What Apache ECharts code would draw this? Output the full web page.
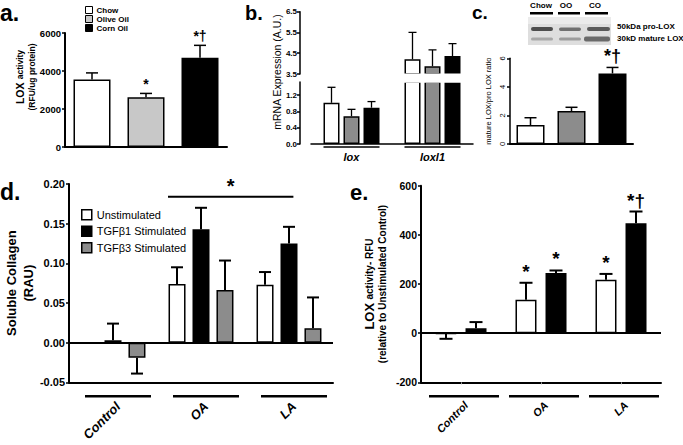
<!DOCTYPE html>
<html><head><meta charset="utf-8">
<script src="https://cdn.jsdelivr.net/npm/echarts@6/dist/echarts.min.js"></script>
<style>html,body{margin:0;padding:0;background:#fff}#c{width:683px;height:445px}</style>
</head><body><div id="c"></div>
<script>
// ---------------- data ----------------
// a. LOX activity by diet
const aCats = ['Chow', 'Olive Oil', 'Corn Oil'];
const aVals = [3550, 2620, 4700];
const aErrs = [350, 200, 650];
const aMarks = ['', '*', '*†'];

// b. mRNA expression
const bGenes = ['lox', 'loxl1'];
const bChow = [1.01, 4.21];
const bChowErr = [0.38, 1.29];
const bOO = [0.68, 3.87];
const bOOErr = [0.17, 0.79];
const bCO = [0.89, 4.37];
const bCOErr = [0.15, 0.59];
const bLowerTicks = [0, 0.4, 0.8, 1.2];

// c. mature/pro LOX ratio
const cCats = ['Chow', 'OO', 'CO'];
const cVals = [1.33, 2.31, 4.94];
const cErrs = [0.51, 0.26, 0.42];
const cMarks = ['', '', '*†'];

// d. soluble collagen
const dCats = ['Control', 'OA', 'LA'];
const dNames = ['Unstimulated', 'TGFβ1 Stimulated', 'TGFβ3 Stimulated'];
const dUnstim = [0, 0.074, 0.073];
const dUnstimErr = [0, 0.021, 0.016];
const dTgf1 = [0.003, 0.143, 0.125];
const dTgf1Err = [0.021, 0.027, 0.021];
const dTgf3 = [-0.019, 0.0665, 0.018];
const dTgf3Err = [0.020, 0.037, 0.039];
const dGroupStar = [1, 2, 0.184, '*'];

// e. LOX activity relative to unstimulated control
const eCats = ['Control', 'OA', 'LA'];
const eUnstim = [-2, 136, 217];
const eUnstimErr = [21, 69, 24];
const eTgf1 = [20, 245, 447];
const eTgf1Err = [25, 10, 48];
const eUnstimMarks = ['', '*', '*'];
const eTgf1Marks = ['', '*', '*†'];

// ---------------- styles ----------------
const FONT = '"Liberation Sans", Arial, Helvetica, sans-serif';
const BLACK = '#000';
const WHITE = '#fff';
const LIGHT = '#c8c8c8';
const MID = '#8c8c8c';

function merge(a, b) {
  const o = Object.assign({}, a);
  for (const k in b) {
    if (b[k] && typeof b[k] === 'object' && !Array.isArray(b[k]) && a[k] && typeof a[k] === 'object') o[k] = merge(a[k], b[k]);
    else o[k] = b[k];
  }
  return o;
}
function yAx(grid, o) {
  return merge({
    type: 'value', gridIndex: grid, nameLocation: 'middle', nameMoveOverlap: false,
    axisLine: { show: true, onZero: false, lineStyle: { color: BLACK, width: 2 } },
    axisTick: { show: true, length: 3, lineStyle: { color: BLACK, width: 1.5 } },
    splitLine: { show: false },
    axisLabel: { color: BLACK, fontFamily: FONT, fontWeight: 'bold', fontSize: 9.5, margin: 4 },
    nameTextStyle: { color: BLACK, fontFamily: FONT }
  }, o);
}
function xAx(grid, cats, o) {
  return merge({
    type: 'category', gridIndex: grid, data: cats,
    axisLine: { show: true, onZero: false, lineStyle: { color: BLACK, width: 2 } },
    axisTick: { show: false }, axisLabel: { show: false }, splitLine: { show: false }
  }, o || {});
}
function barStyle(color) { return { color: color, borderColor: BLACK, borderWidth: 1.5 }; }

function errSeries(ax, data, offset, capW, marks, markFont, clip, lw) {
  return {
    type: 'custom', xAxisIndex: ax, yAxisIndex: ax, clip: !!clip, silent: true, z: 3,
    data: data,
    renderItem: function (params, api) {
      const v = api.value(1), e = api.value(2);
      if (isNaN(v)) return;
      const dir = v < 0 ? -1 : 1;
      const p0 = api.coord([api.value(0), v]);
      const p1 = api.coord([api.value(0), v + dir * e]);
      const x = p0[0] + offset;
      const ch = [];
      const st = { stroke: BLACK, lineWidth: lw || 1.5 };
      if (e > 0) {
        ch.push({ type: 'line', shape: { x1: x, y1: p0[1], x2: x, y2: p1[1] }, style: st });
        ch.push({ type: 'line', shape: { x1: x - capW / 2, y1: p1[1], x2: x + capW / 2, y2: p1[1] }, style: st });
      }
      const m = marks && marks[params.dataIndex];
      if (m) ch.push({ type: 'text', x: x, y: p1[1] - 2, style: { text: m, align: 'center', verticalAlign: 'bottom', font: markFont, fill: BLACK } });
      return { type: 'group', children: ch };
    }
  };
}
function catLabelSeries(ax, cats, lineFrom, lineTo, lineDy, lineW, txtDx, txtDy, font, rotate) {
  return {
    type: 'custom', xAxisIndex: ax, yAxisIndex: ax, clip: false, silent: true, z: 3,
    data: cats.map(function (c, i) { return [i, 0]; }),
    renderItem: function (params, api) {
      const i = api.value(0);
      const cx = api.coord([i, 0])[0];
      const cs = params.coordSys;
      const yb = cs.y + cs.height;
      const ch = [{ type: 'line', shape: { x1: cx + lineFrom, y1: yb + lineDy, x2: cx + lineTo, y2: yb + lineDy }, style: { stroke: BLACK, lineWidth: lineW } }];
      if (rotate) ch.push({ type: 'text', x: cx + txtDx, y: yb + txtDy, rotation: Math.PI / 4, style: { text: cats[i], align: 'right', verticalAlign: 'middle', font: font, fill: BLACK } });
      return { type: 'group', children: ch };
    }
  };
}

// ---------------- series ----------------
const series = [];
// a
const aColors = [WHITE, LIGHT, BLACK];
aCats.forEach(function (name, k) {
  series.push({ type: 'bar', name: name, xAxisIndex: 0, yAxisIndex: 0, barWidth: 37, barGap: '-100%',
    itemStyle: barStyle(aColors[k]), data: aVals.map(function (v, i) { return i === k ? v : '-'; }) });
});
series.push(errSeries(0, aCats.map(function (c, i) { return [i, aVals[i], aErrs[i]]; }), 0, 12, aMarks, 'bold 14px ' + FONT, false, 1.5));

// b (upper grid = axis 1, lower grid = axis 2)
const bSets = [[bChow, bChowErr, WHITE], [bOO, bOOErr, MID], [bCO, bCOErr, BLACK]];
const bOffsets = [-20, 0, 20];
[1, 2].forEach(function (ax) {
  bSets.forEach(function (s, k) {
    series.push({ type: 'bar', name: 'b' + ax + '-' + k, xAxisIndex: ax, yAxisIndex: ax, barWidth: 16, barGap: '25%', clip: true,
      itemStyle: barStyle(s[2]), data: s[0].slice() });
  });
  bSets.forEach(function (s, k) {
    series.push(errSeries(ax, bGenes.map(function (g, i) { return [i, s[0][i], s[1][i]]; }), bOffsets[k], 8, null, '', true, 1.3));
  });
});
series.push(catLabelSeries(2, bGenes, -28, 28, 3, 1.3, 0, 0, '', false));

// c
const cColors = [WHITE, MID, BLACK];
series.push({ type: 'bar', name: 'ratio', xAxisIndex: 3, yAxisIndex: 3, barWidth: 28,
  data: cVals.map(function (v, i) { return { value: v, itemStyle: barStyle(cColors[i]) }; }) });
series.push(errSeries(3, cCats.map(function (c, i) { return [i, cVals[i], cErrs[i]]; }), 0, 12, cMarks, 'bold 18px ' + FONT, false, 1.5));

// d
const dSets = [[dUnstim, dUnstimErr, WHITE], [dTgf1, dTgf1Err, BLACK], [dTgf3, dTgf3Err, MID]];
const dOffsets = [-24, 0, 24];
dSets.forEach(function (s, k) {
  const sr = { type: 'bar', name: dNames[k], xAxisIndex: 4, yAxisIndex: 4, barWidth: 17, barGap: '41%',
    itemStyle: barStyle(s[2]), data: s[0].slice() };
  if (k === 0) sr.markLine = { silent: true, symbol: ['none', 'none'], label: { show: false }, lineStyle: { color: BLACK, width: 2, type: 'solid' }, data: [{ yAxis: 0 }] };
  series.push(sr);
});
dSets.forEach(function (s, k) {
  series.push(errSeries(4, dCats.map(function (c, i) { return [i, s[0][i], s[1][i]]; }), dOffsets[k], 12, null, '', false, 2));
});
series.push({
  type: 'custom', xAxisIndex: 4, yAxisIndex: 4, clip: false, silent: true, z: 3,
  data: [dGroupStar.slice(0, 3)],
  renderItem: function (params, api) {
    const band = api.size([1, 0])[0];
    const y = api.coord([api.value(0), api.value(2)])[1];
    const x1 = api.coord([api.value(0), 0])[0] - 0.375 * band;
    const x2 = api.coord([api.value(1), 0])[0] + 0.05 * band;
    return { type: 'group', children: [
      { type: 'line', shape: { x1: x1, y1: y, x2: x2, y2: y }, style: { stroke: BLACK, lineWidth: 2 } },
      { type: 'text', x: (x1 + x2) / 2, y: y - 1, style: { text: dGroupStar[3], align: 'center', verticalAlign: 'bottom', font: 'bold 20px ' + FONT, fill: BLACK } }
    ] };
  }
});
series.push(catLabelSeries(4, dCats, -28, 38, 14, 2.5, 5, 22, 'italic bold 13px ' + FONT, true));

// e
const eSets = [[eUnstim, eUnstimErr, WHITE, eUnstimMarks], [eTgf1, eTgf1Err, BLACK, eTgf1Marks]];
const eOffsets = [-15, 15];
eSets.forEach(function (s, k) {
  const sr = { type: 'bar', name: 'e-' + dNames[k], xAxisIndex: 5, yAxisIndex: 5, barWidth: 21, barGap: '43%',
    itemStyle: barStyle(s[2]), data: s[0].slice() };
  if (k === 0) sr.markLine = { silent: true, symbol: ['none', 'none'], label: { show: false }, lineStyle: { color: BLACK, width: 2, type: 'solid' }, data: [{ yAxis: 0 }] };
  series.push(sr);
});
eSets.forEach(function (s, k) {
  series.push(errSeries(5, eCats.map(function (c, i) { return [i, s[0][i], s[1][i]]; }), eOffsets[k], 13, s[3], 'bold 19px ' + FONT, false, 2));
});
series.push(catLabelSeries(5, eCats, -32, 38, 14, 2.5, 5, 21, 'italic bold 11px ' + FONT, true));

// ---------------- option ----------------
const chart = echarts.init(document.getElementById('c'), null, { renderer: 'svg', width: 683, height: 445 });
const option = {
  animation: false,
  backgroundColor: '#fff',
  textStyle: { fontFamily: FONT },
  grid: [
    { left: 65, top: 33, width: 162, height: 114, outerBoundsMode: 'none' },
    { left: 311, top: 11.7, width: 162, height: 62.3, outerBoundsMode: 'none' },
    { left: 311, top: 82, width: 162, height: 62, outerBoundsMode: 'none' },
    { left: 510, top: 58.3, width: 123, height: 85.7, outerBoundsMode: 'none' },
    { left: 69, top: 184, width: 264, height: 198.3, outerBoundsMode: 'none' },
    { left: 421, top: 185.7, width: 240, height: 196.6, outerBoundsMode: 'none' }
  ],
  xAxis: [
    xAx(0, aCats),
    xAx(1, bGenes, { axisLine: { show: false } }),
    xAx(2, bGenes, { axisLine: { lineStyle: { width: 1.5 } }, axisLabel: { show: true, color: BLACK, fontFamily: FONT, fontStyle: 'italic', fontWeight: 'bold', fontSize: 11, margin: 7 } }),
    xAx(3, cCats),
    xAx(4, dCats),
    xAx(5, eCats, { axisTick: { show: true, alignWithLabel: true, length: 2, lineStyle: { color: '#999', width: 1 } } })
  ],
  yAxis: [
    yAx(0, { min: 0, max: 6000, interval: 2000, nameGap: 28,
      axisLabel: { formatter: function (v) { return String(v); } },
      name: '{b|LOX} {s|activity}\n{l|(RFU/ug protein)}',
      nameTextStyle: { padding: [0, 0, 0, 26], rich: {
        b: { fontSize: 10.5, fontWeight: 'bold', fontFamily: FONT, color: BLACK, lineHeight: 12 },
        s: { fontSize: 8.5, fontWeight: 'bold', fontFamily: FONT, color: BLACK, lineHeight: 12 },
        l: { fontSize: 8.5, fontWeight: 'bold', fontFamily: FONT, color: BLACK, lineHeight: 11 } } } }),
    yAx(1, { min: 3.5, max: 6.5, interval: 1, offset: 11, axisLine: { lineStyle: { width: 1.5 } },
      axisLabel: { fontSize: 8, margin: 3, formatter: function (v) { return v.toFixed(1); } } }),
    yAx(2, { min: 0, max: 1.52, interval: 0.4, offset: 11, axisLine: { lineStyle: { width: 1.5 } },
      axisTick: { customValues: bLowerTicks },
      axisLabel: { fontSize: 8, margin: 3, customValues: bLowerTicks, formatter: function (v) {
        return Math.abs(v / 0.4 - Math.round(v / 0.4)) > 1e-6 ? '' : v.toFixed(1); } } }),
    yAx(3, { min: 0, max: 6, interval: 2, nameGap: 18, name: 'mature LOX/pro LOX ratio',
      axisLine: { lineStyle: { width: 1.5 } },
      axisLabel: { rotate: 90, fontWeight: 'normal', fontSize: 7.5, margin: 4 },
      nameTextStyle: { fontSize: 7.5 } }),
    yAx(4, { min: -0.05, max: 0.2, interval: 0.05, nameGap: 32, name: 'Soluble Collagen\n(RAU)',
      axisLabel: { fontSize: 11, formatter: function (v) { return v.toFixed(2); } },
      nameTextStyle: { fontSize: 13, fontWeight: 'bold', lineHeight: 17 } }),
    yAx(5, { min: -200, max: 600, interval: 200, nameGap: 32,
      name: '{b|LOX} {m|activity- RFU}\n{m|(relative to Unstimulated Control)}',
      axisLabel: { fontSize: 10.5, formatter: function (v) { return String(v); } },
      nameTextStyle: { rich: {
        b: { fontSize: 13, fontWeight: 'bold', fontFamily: FONT, color: BLACK, lineHeight: 14 },
        m: { fontSize: 10, fontWeight: 'bold', fontFamily: FONT, color: BLACK, lineHeight: 13 } } } })
  ],
  legend: [
    { data: aCats, orient: 'vertical', left: 80, top: 1, itemWidth: 7, itemHeight: 7, itemGap: 1, icon: 'rect',
      selectedMode: false, itemStyle: { borderColor: BLACK, borderWidth: 1 },
      textStyle: { fontFamily: FONT, fontWeight: 'bold', fontSize: 8, color: BLACK, padding: [0, 0, 0, -1] } },
    { data: dNames, orient: 'vertical', left: 76, top: 204, itemWidth: 10, itemHeight: 10, itemGap: 5, icon: 'rect',
      selectedMode: false, itemStyle: { borderColor: BLACK, borderWidth: 1.5 },
      textStyle: { fontFamily: FONT, fontSize: 11, color: BLACK } }
  ],
  graphic: [
    { type: 'text', x: 0, y: 13, style: { text: 'a.', font: 'bold 23px ' + FONT, fill: BLACK, verticalAlign: 'middle' } },
    { type: 'text', x: 245, y: 12.5, style: { text: 'b.', font: 'bold 20px ' + FONT, fill: BLACK, verticalAlign: 'middle' } },
    { type: 'text', x: 472, y: 12.5, style: { text: 'c.', font: 'bold 19px ' + FONT, fill: BLACK, verticalAlign: 'middle' } },
    { type: 'text', x: 0, y: 192, style: { text: 'd.', font: 'bold 23px ' + FONT, fill: BLACK, verticalAlign: 'middle' } },
    { type: 'text', x: 350, y: 192.5, style: { text: 'e.', font: 'bold 22px ' + FONT, fill: BLACK, verticalAlign: 'middle' } },
    { type: 'text', x: 277, y: 72, rotation: Math.PI / 2, style: { text: 'mRNA Expression (A.U.)', font: '10.5px ' + FONT, fill: BLACK, align: 'center', verticalAlign: 'middle' } },
    // axis break gap across the loxl1 bars (panel b)
    { type: 'rect', z: 100, shape: { x: 398, y: 73.6, width: 70, height: 9.2 }, style: { fill: '#fff' } },
    // western blot (panel c inset)
    { type: 'rect', shape: { x: 528, y: 17, width: 83, height: 28 }, style: { fill: '#dedede' } },
    { type: 'rect', shape: { x: 528, y: 17, width: 83, height: 7 }, style: { fill: '#ebebeb' } },
    { type: 'rect', shape: { x: 531, y: 27, width: 22, height: 4, r: 2 }, style: { fill: '#4d4d4d' } },
    { type: 'rect', shape: { x: 559, y: 27.5, width: 22, height: 3.5, r: 2 }, style: { fill: '#707070' } },
    { type: 'rect', shape: { x: 587, y: 27, width: 23, height: 4, r: 2 }, style: { fill: '#5a5a5a' } },
    { type: 'rect', shape: { x: 531, y: 37.5, width: 22, height: 3, r: 1.5 }, style: { fill: '#a8a8a8' } },
    { type: 'rect', shape: { x: 559, y: 37.5, width: 22, height: 3, r: 1.5 }, style: { fill: '#9c9c9c' } },
    { type: 'rect', shape: { x: 584, y: 36.5, width: 26, height: 5, r: 2 }, style: { fill: '#6a6a6a' } },
    { type: 'rect', shape: { x: 530, y: 12, width: 23, height: 2.5 }, style: { fill: BLACK } },
    { type: 'rect', shape: { x: 558, y: 12, width: 22, height: 2.5 }, style: { fill: BLACK } },
    { type: 'rect', shape: { x: 585, y: 12, width: 23, height: 2.5 }, style: { fill: BLACK } },
    { type: 'text', x: 541, y: 5, style: { text: 'Chow', font: 'bold 8px ' + FONT, fill: BLACK, align: 'center', verticalAlign: 'middle' } },
    { type: 'text', x: 566, y: 5, style: { text: 'OO', font: 'bold 8px ' + FONT, fill: BLACK, align: 'center', verticalAlign: 'middle' } },
    { type: 'text', x: 595, y: 5, style: { text: 'CO', font: 'bold 8px ' + FONT, fill: BLACK, align: 'center', verticalAlign: 'middle' } },
    { type: 'text', x: 617, y: 26, style: { text: '50kDa pro-LOX', font: 'bold 8px ' + FONT, fill: BLACK, verticalAlign: 'middle' } },
    { type: 'text', x: 617, y: 38, style: { text: '30kD mature LOX', font: 'bold 8px ' + FONT, fill: BLACK, verticalAlign: 'middle' } }
  ],
  series: series
};
chart.setOption(option);
</script>
</body></html>
